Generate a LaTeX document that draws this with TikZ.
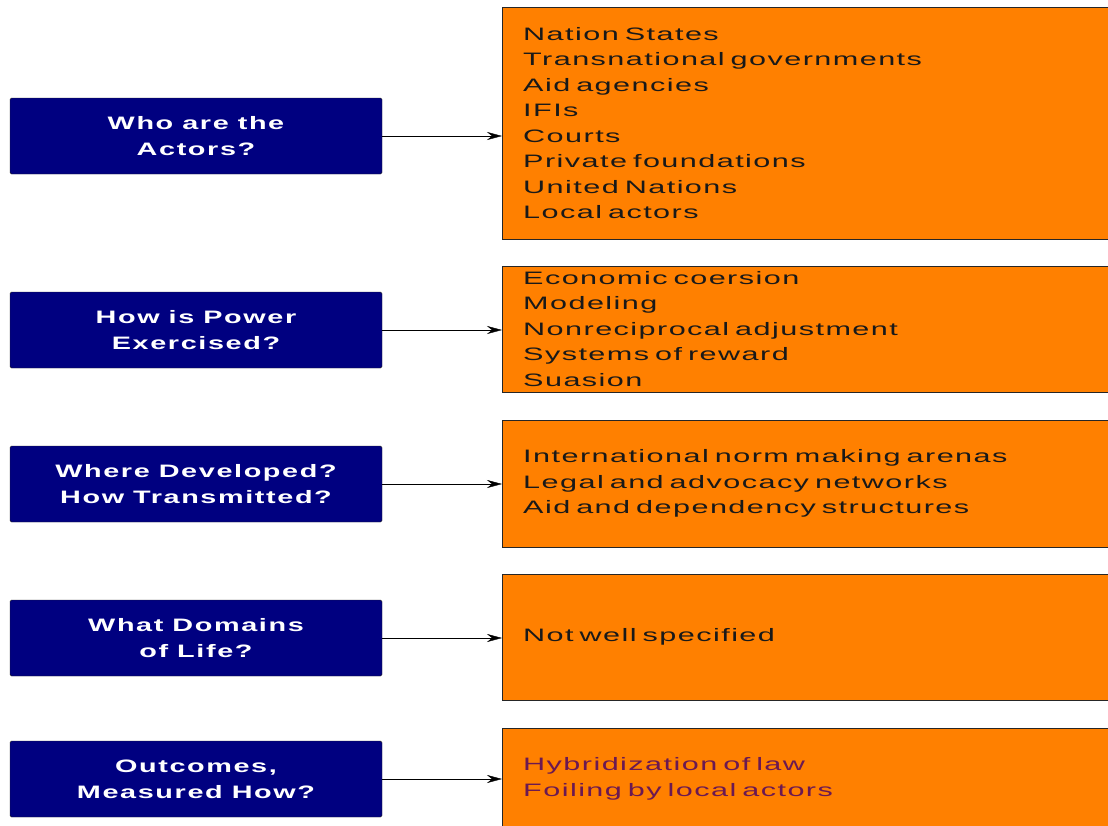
\documentclass[tikz,border=0pt]{standalone}
\usepackage{fontspec}
\setmainfont{Liberation Sans}
\newfontfamily\widefont[FakeStretch=1.7,LetterSpace=8]{Liberation Sans}
\newfontfamily\widebold[FakeStretch=1.6,LetterSpace=9]{Liberation Sans Bold}
\usetikzlibrary{positioning,arrows.meta}
\newcommand\QuestionFont{\widebold\fontsize{18}{26}\selectfont\spaceskip 9pt\relax}
\newcommand\AnswerFont{\widefont\fontsize{18}{25.5}\selectfont\spaceskip 11pt\relax}
\definecolor{navybox}{rgb}{0.0, 0.0, 0.5}
\definecolor{orangebox}{rgb}{1.0, 0.5, 0.0}
\definecolor{plumtext}{rgb}{0.42, 0.1, 0.32}
\tikzset{
  question/.style={
    shape = rectangle,
    draw = black!85,
    fill = navybox,
    rounded corners = 1.5pt,
    minimum width = 372pt,
    minimum height = 76pt,
    text = white,
    align = center,
    font = \QuestionFont
  },
}
\tikzset{
  answer/.style={
    shape = rectangle,
    draw = black!85,
    fill = orangebox,
    anchor = west,
    inner xsep = 21pt,
    text width = 600pt,
    align = left,
    text = black!90,
    font = \AnswerFont
  },
}
\tikzset{
  pointer/.style={
    -{Stealth[length=15pt,width=8pt,inset=5pt]},
    thin
  },
}
\begin{document}
\begin{tikzpicture}[x=1pt,y=-1pt]
\useasboundingbox (0,0) rectangle (1108,825);

       \node[question] (who) at (196,136) {Who are the\\Actors?};
       \node[question] (how) at (196,330) {How is Power\\Exercised?};
       \node[question] (where) at (196,484) {Where Developed?\\How Transmitted?};
       \node[question] (what) at (196,638) {What Domains\\of Life?};
       \node[question] (outcome) at (196,779) {Outcomes,\\Measured How?};

       \node[answer, minimum height=232pt] (actors) at (502,123) {Nation States\\Transnational governments\\Aid agencies\\IFIs\\Courts\\Private foundations\\United Nations\\Local actors};
       \node[answer, minimum height=126pt] (power) at (502,329) {Economic coersion\\Modeling\\Nonreciprocal adjustment\\Systems of reward\\Suasion};
       \node[answer, minimum height=127pt] (arenas) at (502,483.5) {International norm making arenas\\Legal and advocacy networks\\Aid and dependency structures};
       \node[answer, minimum height=126pt] (domains) at (502,637) {Not well specified};
       \node[answer, minimum height=102pt, text=plumtext] (results) at (502,779) {Hybridization of law\\Foiling by local actors};

       \draw[pointer] (who.east) -- (who.east -| actors.west);
       \draw[pointer] (how.east) -- (how.east -| power.west);
       \draw[pointer] (where.east) -- (where.east -| arenas.west);
       \draw[pointer] (what.east) -- (what.east -| domains.west);
       \draw[pointer] (outcome.east) -- (outcome.east -| results.west);

\end{tikzpicture}
\end{document}
